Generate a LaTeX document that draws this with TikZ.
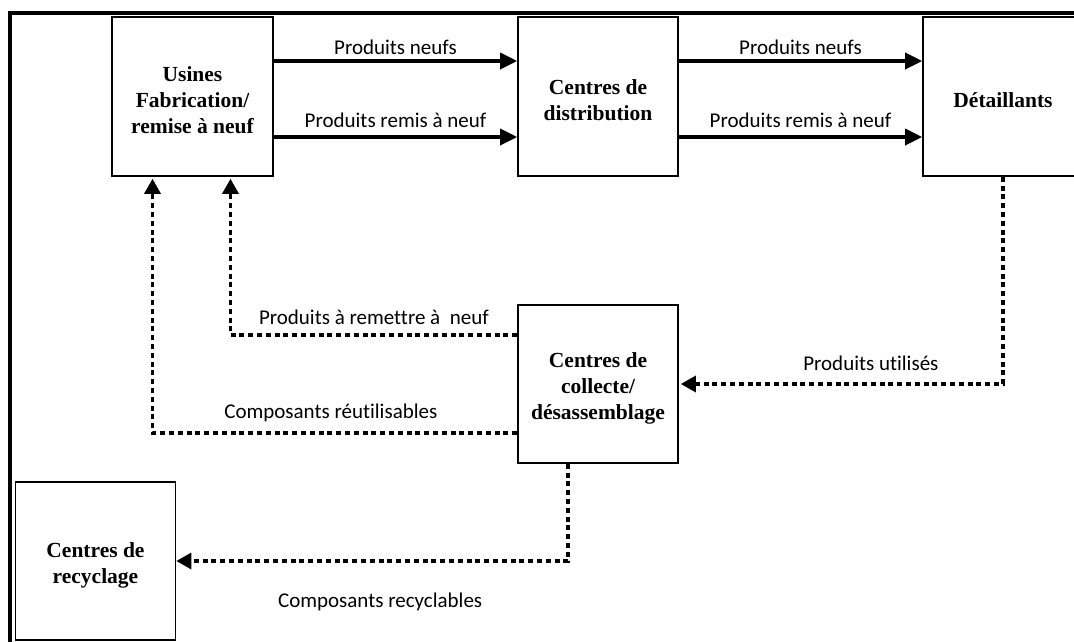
\documentclass[tikz,border=0pt]{standalone}
\usepackage{fontspec}
\setmainfont{Liberation Serif}
\newfontfamily\lblfont[Ligatures=NoCommon]{Carlito}
\newcommand\bxstrut{\rule{0pt}{23pt}}
\usetikzlibrary{arrows.meta}
\begin{document}
\begin{tikzpicture}[x=1pt,y=-1pt,
  box/.style={draw, line width=1.6pt, minimum width=160pt, minimum height=159pt,
    align=center, inner sep=0pt,
    font=\fontsize{21.5}{26}\selectfont\bfseries},
  flow/.style={line width=3.5pt, -{Triangle[length=17pt,width=16pt]}},
  back/.style={line width=3.2pt, dash pattern=on 5pt off 3.8pt,
    -{Triangle[length=15pt,width=16pt]}},
  lbl/.style={font=\lblfont\fontsize{21}{25}\selectfont, inner sep=0pt, text depth=0pt}
]
\useasboundingbox (0,0) rectangle (1074,641);
\clip (0,0) rectangle (1074,641);
\fill[white] (0,0) rectangle (1074,641);
% frame
\draw[line width=4pt] (10,660) -- (10,13) -- (1090,13);
% boxes
\node[box, minimum width=161pt] (usines) at (192.5,96.5) {\bxstrut Usines\\Fabrication/\\remise à neuf};
\node[box] (distrib) at (598,96.5) {\bxstrut Centres de\\distribution};
\node[box] (det) at (1003,96.5) {\bxstrut Détaillants};
\node[box, minimum height=158pt] (coll) at (598,384) {\bxstrut Centres de\\collecte/\\désassemblage};
\node[box, minimum height=158pt] (recy) at (95.5,561) {\bxstrut Centres de\\recyclage};
% forward flows
\draw[flow] ([yshift=35.5pt]usines.east) -- node[lbl, above=5pt] {Produits neufs} ([yshift=35.5pt]distrib.west);
\draw[flow] ([yshift=-40.5pt]usines.east) -- node[lbl, above=8pt] {Produits remis à neuf} ([yshift=-40.5pt]distrib.west);
\draw[flow] ([yshift=35.5pt]distrib.east) -- node[lbl, above=5pt] {Produits neufs} ([yshift=35.5pt]det.west);
\draw[flow] ([yshift=-40.5pt]distrib.east) -- node[lbl, above=8pt] {Produits remis à neuf} ([yshift=-40.5pt]det.west);
% reverse flows
\draw[back, shorten >=2pt] (det.south) |- node[lbl, pos=0.75, above=12pt, xshift=30pt] {Produits utilisés} (coll.east);
\draw[back, shorten >=2pt] ([yshift=49pt]coll.west) -| node[lbl, pos=0.25, above=9pt] {Produits à remettre à \ neuf} ([xshift=38pt]usines.south);
\draw[back, shorten >=2pt] ([yshift=-49pt]coll.west) -| node[lbl, pos=0.25, above=13pt, xshift=-4pt] {Composants réutilisables} ([xshift=-40pt]usines.south);
\draw[back] ([xshift=-30pt]coll.south) |- node[lbl, pos=0.75, below=30pt, xshift=8pt] {Composants recyclables} (recy.east);
\end{tikzpicture}
\end{document}
